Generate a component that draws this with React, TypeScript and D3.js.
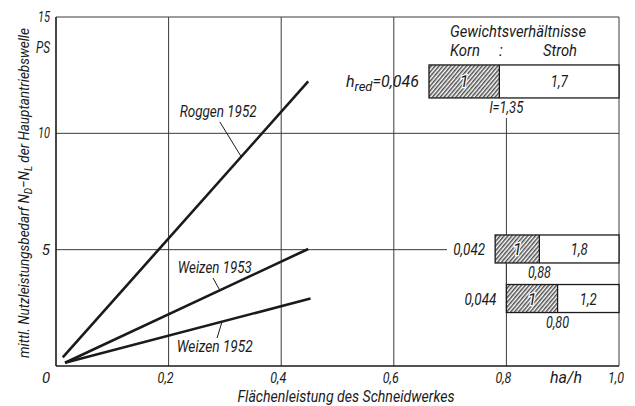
import React from "react";
import * as d3 from "d3";

// Power demand lines (x in ha/h, y in PS)
const crops = ["Roggen 1952", "Weizen 1953", "Weizen 1952"];
const xStart = [0.012, 0.016, 0.016];
const yStart = [0.37, 0.14, 0.14];
const xEnd = [0.448, 0.448, 0.452];
const yEnd = [12.23, 5.03, 2.9];

// Label anchor (data units) and where each leader touches its line
const labelX = [0.288, 0.282, 0.282];
const labelY = [10.7, 4.0, 0.6];
const leaderFromX = [0.291, 0.279, 0.286];
const leaderFromY = [10.49, 3.78, 1.2];
const leaderToX = [0.329, 0.291, 0.295];

// Weight ratio bars: grain : straw, reduced h, straw length l
const hRed = ["0,046", "0,042", "0,044"];
const strawRatio = [1.7, 1.8, 1.2];
const strawRatioLabel = ["1,7", "1,8", "1,2"];
const strawLength = [1.35, 0.88, 0.8];
const strawLengthLabel = ["l=1,35", "0,88", "0,80"];

const xTicks = [0.2, 0.4, 0.6, 0.8, 1.0];
const xTickLabels = ["0,2", "0,4", "0,6", "0,8", "1,0"];
const yTicks = [5, 10, 15];
const yTickLabels = ["5", "10", "15"];

const W = 635;
const H = 406;
const FONT = "Roboto, 'DejaVu Sans Condensed', sans-serif";
const INK = "#1a1a1a";
const GRID = "#3a3a3a";

type TProps = {
  x?: number;
  y?: number;
  size: number;
  width?: number;
  anchor?: "start" | "middle" | "end";
  transform?: string;
  halo?: boolean;
  children: React.ReactNode;
};

// Italic technical lettering, optionally squeezed to a fixed run length
function T({ x, y, size, width, anchor = "start", transform, halo, children }: TProps) {
  return (
    <text
      x={x}
      y={y}
      transform={transform}
      fontFamily={FONT}
      fontStyle="italic"
      fontWeight={400}
      fontSize={size}
      fill={INK}
      textAnchor={anchor}
      textLength={width}
      lengthAdjust={width ? "spacingAndGlyphs" : undefined}
      stroke={halo ? "#fff" : undefined}
      strokeWidth={halo ? 2.5 : undefined}
      paintOrder={halo ? "stroke" : undefined}
    >
      {children}
    </text>
  );
}

export default function App() {
  const x = d3.scaleLinear().domain([0, 1]).range([56, 619]);
  const y = d3.scaleLinear().domain([0, 15]).range([366, 17]);
  const line = d3
    .line<[number, number]>()
    .x((d) => x(d[0]))
    .y((d) => y(d[1]));

  const lineY = (i: number, xv: number) =>
    yStart[i] + ((xv - xStart[i]) / (xEnd[i] - xStart[i])) * (yEnd[i] - yStart[i]);

  const barH = [33, 28, 28];
  const labelW = [77, 74, 76];
  const hRedW = [73, 32, 32];
  const lenW = [34, 23, 23];

  return (
    <svg
      width={W}
      height={H}
      viewBox={`0 0 ${W} ${H}`}
      style={{ position: "absolute", left: 0, top: 0, background: "#fff" }}
    >
      <defs>
        <pattern
          id="hatch"
          patternUnits="userSpaceOnUse"
          width={3}
          height={3}
          patternTransform="rotate(40)"
        >
          <rect width={3} height={3} fill="#fff" />
          <line x1={0.8} y1={0} x2={0.8} y2={3} stroke="#222" strokeWidth={1.2} />
        </pattern>
      </defs>

      {/* grid */}
      <g stroke={GRID} strokeWidth={1} fill="none">
        {[0.2, 0.4, 0.6].map((t) => (
          <line key={t} x1={x(t)} x2={x(t)} y1={y(15)} y2={y(0)} />
        ))}
        <line x1={x(0.8)} x2={x(0.8)} y1={118} y2={y(0)} />
        <line x1={x(0)} x2={x(1)} y1={y(10)} y2={y(10)} />
        <line x1={x(0)} x2={447} y1={y(5)} y2={y(5)} />
        <line x1={x(0)} x2={x(1)} y1={y(15)} y2={y(15)} />
        <line x1={x(1)} x2={x(1)} y1={y(15)} y2={y(0)} />
      </g>
      <g stroke={INK} strokeWidth={1.6}>
        <line x1={x(0)} x2={x(0)} y1={y(15)} y2={y(0)} />
        <line x1={x(0)} x2={x(1)} y1={y(0)} y2={y(0)} />
      </g>

      {/* power demand lines */}
      {crops.map((c, i) => (
        <path
          key={c}
          d={line([
            [xStart[i], yStart[i]],
            [xEnd[i], yEnd[i]],
          ]) ?? ""}
          stroke={INK}
          strokeWidth={2.6}
          fill="none"
        />
      ))}

      {/* curve labels with leaders */}
      {crops.map((c, i) => (
        <g key={c}>
          <line
            x1={x(leaderFromX[i])}
            y1={y(leaderFromY[i])}
            x2={x(leaderToX[i])}
            y2={y(lineY(i, leaderToX[i]))}
            stroke={INK}
            strokeWidth={1}
          />
          <T x={x(labelX[i])} y={y(labelY[i])} size={16} width={labelW[i]} anchor="middle">
            {c}
          </T>
        </g>
      ))}

      {/* weight ratio bars */}
      {strawRatio.map((r, i) => {
        const x0 = x(1 - strawLength[i] / 4);
        const x1 = x(1);
        const xm = x0 + (x1 - x0) / (1 + r);
        const yc = y(yEnd[i]);
        const h = barH[i];
        return (
          <g key={i}>
            <rect x={x0} y={yc - h / 2} width={x1 - x0} height={h} fill="#fff" />
            <rect x={x0} y={yc - h / 2} width={xm - x0} height={h} fill="url(#hatch)" />
            <rect
              x={x0}
              y={yc - h / 2}
              width={x1 - x0}
              height={h}
              fill="none"
              stroke={INK}
              strokeWidth={1.3}
            />
            <line x1={xm} x2={xm} y1={yc - h / 2} y2={yc + h / 2} stroke={INK} strokeWidth={1.3} />
            <T x={(x0 + xm) / 2} y={yc + 6} size={16} anchor="middle" halo>
              1
            </T>
            <T x={(xm + x1) / 2} y={yc + 6} size={16} width={17} anchor="middle">
              {strawRatioLabel[i]}
            </T>
            <T x={x0 - 10} y={yc + 6} size={16} width={hRedW[i]} anchor="end">
              {i === 0 ? (
                <>
                  <tspan>h</tspan>
                  <tspan fontSize={13} dy={4}>
                    red
                  </tspan>
                  <tspan dy={-4}>{"=" + hRed[i]}</tspan>
                </>
              ) : (
                hRed[i]
              )}
            </T>
            <T
              x={i === 0 ? x(0.8) : xm}
              y={yc + h / 2 + 15}
              size={16}
              width={lenW[i]}
              anchor="middle"
            >
              {strawLengthLabel[i]}
            </T>
          </g>
        );
      })}
      <line x1={x(0.8)} x2={x(0.8)} y1={y(yEnd[1]) + 14} y2={y(yEnd[2]) - 14} stroke={GRID} />

      {/* legend heading */}
      <T x={450} y={37} size={16} width={136}>
        Gewichtsverhältnisse
      </T>
      <T x={450} y={56} size={16} width={30}>
        Korn
      </T>
      <T x={499} y={56} size={16}>
        :
      </T>
      <T x={543} y={56} size={16} width={34}>
        Stroh
      </T>

      {/* axis tick labels */}
      <T x={x(0) - 10} y={383} size={15} anchor="middle">
        0
      </T>
      {xTicks.map((t, i) => (
        <T key={t} x={x(t) - 3} y={383} size={15} width={16} anchor="middle">
          {xTickLabels[i]}
        </T>
      ))}
      <T x={566} y={383} size={16} width={32} anchor="middle">
        ha/h
      </T>
      {yTicks.map((t, i) => (
        <T key={t} x={50} y={y(t) + 5} size={15} width={t >= 10 ? 12 : undefined} anchor="end">
          {yTickLabels[i]}
        </T>
      ))}
      <T x={50} y={53} size={17} width={14} anchor="end">
        PS
      </T>

      {/* axis titles */}
      <T x={346} y={402} size={16} width={217} anchor="middle">
        Flächenleistung des Schneidwerkes
      </T>
      <T transform="translate(29,193) rotate(-90)" size={15} width={330} anchor="middle">
        mittl. Nutzleistungsbedarf N
        <tspan fontSize={11} dy={3}>D</tspan>
        <tspan dy={-3}>−N</tspan>
        <tspan fontSize={11} dy={3}>L</tspan>
        <tspan dy={-3}> der Hauptantriebswelle</tspan>
      </T>
    </svg>
  );
}
